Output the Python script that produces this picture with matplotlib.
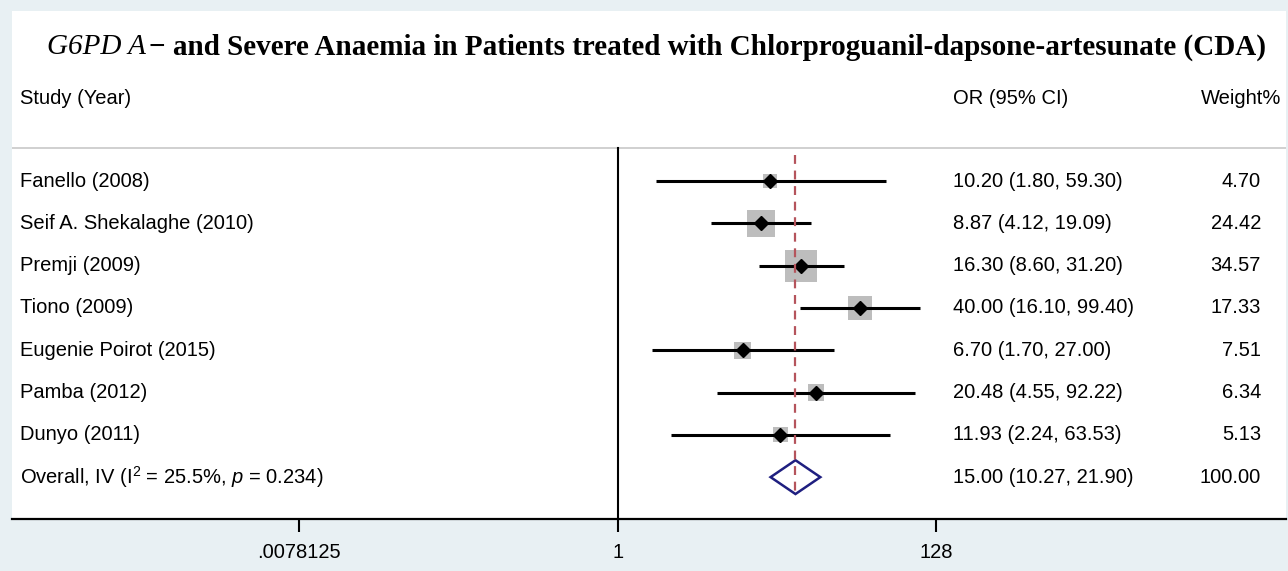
import numpy as np
import matplotlib.pyplot as plt
from matplotlib.transforms import blended_transform_factory

# Forest plot: G6PD A- and severe anaemia with CDA

studies = ["Fanello (2008)", "Seif A. Shekalaghe (2010)", "Premji (2009)",
           "Tiono (2009)", "Eugenie Poirot (2015)", "Pamba (2012)", "Dunyo (2011)"]
odds = [10.20, 8.87, 16.30, 40.00, 6.70, 20.48, 11.93]
lower = [1.80, 4.12, 8.60, 16.10, 1.70, 4.55, 2.24]
upper = [59.30, 19.09, 31.20, 99.40, 27.00, 92.22, 63.53]
weights = [4.70, 24.42, 34.57, 17.33, 7.51, 6.34, 5.13]

overall_or = 15.00
overall_lo = 10.27
overall_hi = 21.90
overall_label = r"Overall, IV (I$^{2}$ = 25.5%, $p$ = 0.234)"

tick_vals = [0.0078125, 1, 128]
tick_labels = [".0078125", "1", "128"]

plt.rcParams['font.family'] = ['Liberation Sans', 'DejaVu Sans']
plt.rcParams['mathtext.fontset'] = 'custom'
plt.rcParams['mathtext.rm'] = 'Liberation Sans'
plt.rcParams['mathtext.it'] = 'Liberation Sans:italic'

fig = plt.figure(figsize=(12.88, 5.71), dpi=100)
fig.patch.set_facecolor('#e8f0f3')
W, H = 1288, 571
ax = fig.add_axes([12 / W, (H - 519) / H, (1286 - 12) / W, (519 - 11) / H])
ax.set_facecolor('white')

ax.set_xscale('log', base=2)
ax.set_xlim(2 ** -13.30, 2 ** 14.68)
ax.set_ylim(8.99, -3.02)

rows = np.arange(1, len(studies) + 1)
ov_row = len(studies) + 1

# vertical no-effect line and header separator
ax.plot([1, 1], [0.22, 8.99], color='black', lw=1.5, zorder=2)
ax.axhline(0.22, color='#c8c8c8', lw=1.2, zorder=1)
# overall effect dashed line (drawn through the diamond)
ax.plot([overall_or, overall_or], [0.38, 8.43], color='#b5545c', lw=1.6,
        ls=(0, (4, 3)), zorder=7)

# weight boxes, CI lines, point markers
ax.scatter(odds, rows, s=np.array(weights) * 14 + 45, marker='s',
           color='#bdbdbd', zorder=4, linewidths=0)
for r, lo, hi in zip(rows, lower, upper):
    ax.plot([lo, hi], [r, r], color='black', lw=2.2, zorder=5,
            solid_capstyle='butt')
ax.plot(odds, rows, ls='none', marker='D', ms=7.5, color='black', zorder=6)

# overall diamond
h = 0.40
ax.fill([overall_lo, overall_or, overall_hi, overall_or, overall_lo],
        [ov_row, ov_row - h, ov_row, ov_row + h, ov_row],
        facecolor='none', edgecolor='#1f1f80', lw=1.8, zorder=5)

# axes styling
for s in ['top', 'left', 'right']:
    ax.spines[s].set_visible(False)
ax.spines['bottom'].set_linewidth(1.6)
ax.set_yticks([])
ax.set_xticks(tick_vals)
ax.set_xticklabels(tick_labels, fontsize=14.5)
ax.xaxis.set_minor_locator(plt.NullLocator())
ax.tick_params(axis='x', direction='out', length=9, width=1.5, pad=8)

# text columns
tr = blended_transform_factory(ax.transAxes, ax.transData)
fs = 14.5
xl, xo, xw = 0.0063, (953 - 12) / 1274, (1261 - 12) / 1274
ax.text(xl, -0.963, "Study (Year)", transform=tr, fontsize=fs, va='center')
ax.text(xo, -0.963, "OR (95% CI)", transform=tr, fontsize=fs, va='center')
ax.text(0.996, -0.963, "Weight%", transform=tr, fontsize=fs, va='center', ha='right')
for r, name, o, lo, hi, w in zip(rows, studies, odds, lower, upper, weights):
    ax.text(xl, r, name, transform=tr, fontsize=fs, va='center')
    ax.text(xo, r, f"{o:.2f} ({lo:.2f}, {hi:.2f})", transform=tr,
            fontsize=fs, va='center')
    ax.text(xw, r, f"{w:.2f}", transform=tr, fontsize=fs, va='center', ha='right')
ax.text(xl, ov_row, overall_label, transform=tr, fontsize=fs, va='center')
ax.text(xo, ov_row, f"{overall_or:.2f} ({overall_lo:.2f}, {overall_hi:.2f})",
        transform=tr, fontsize=fs, va='center')
ax.text(xw, ov_row, f"{sum(weights):.2f}", transform=tr, fontsize=fs,
        va='center', ha='right')

# title: italic gene name followed by bold text, centred together
renderer = fig.canvas.get_renderer()
t1 = fig.text(0, 0, "G6PD A", family='Liberation Serif', style='italic',
              fontsize=21)
t2 = fig.text(0, 0, "\u2212 and Severe Anaemia in Patients treated with "
              "Chlorproguanil-dapsone-artesunate (CDA)",
              family='Liberation Serif', weight='bold', fontsize=21)
w1 = t1.get_window_extent(renderer).width
w2 = t2.get_window_extent(renderer).width
x0 = 655 - (w1 + w2) / 2
ty = (H - 47) / H
t1.set_position((x0 / W, ty))
t2.set_position(((x0 + w1 + 3) / W, ty))
t1.set_va('center')
t2.set_va('center')

fig.savefig("out.png", dpi=100, facecolor=fig.get_facecolor())
